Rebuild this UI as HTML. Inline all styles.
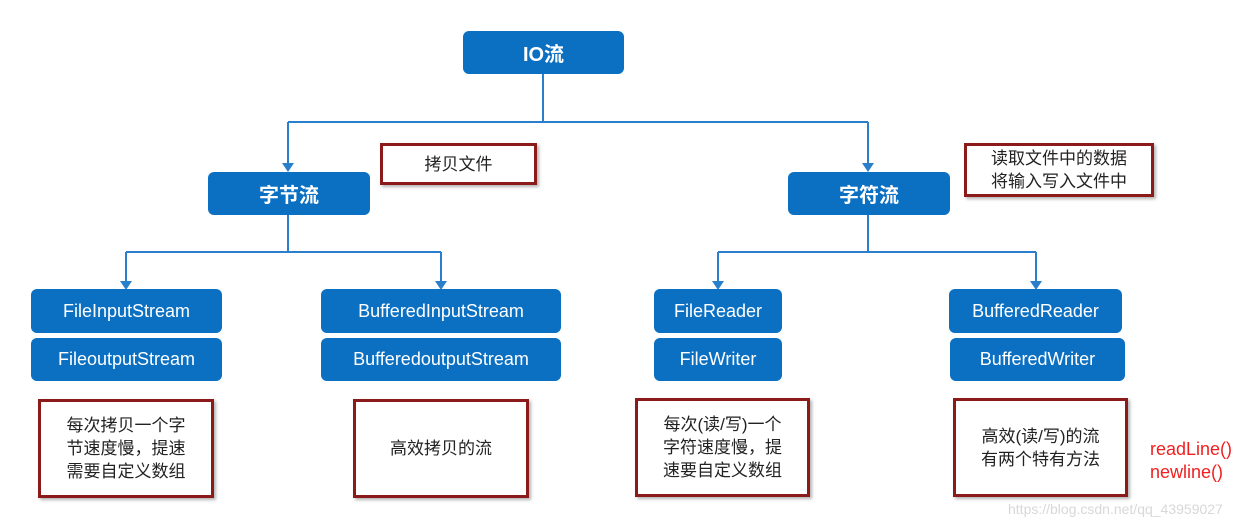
<!DOCTYPE html>
<html><head><meta charset="utf-8"><style>
body{margin:0;width:1259px;height:528px;background:#fff;position:relative;overflow:hidden;font-family:"Liberation Sans","Noto Sans CJK SC",sans-serif}
.b{position:absolute;background:#0b6fc2;color:#fff;border-radius:6px;display:flex;align-items:center;justify-content:center;font-size:18px;box-sizing:border-box}
.h{font-weight:bold;font-size:20px}
.r{position:absolute;border:3px solid #8b1a1a;box-sizing:border-box;display:flex;align-items:center;justify-content:center;text-align:center;font-size:17px;line-height:23px;color:#222;box-shadow:2px 2px 3px rgba(0,0,0,.3);background:#fff}
svg{position:absolute;left:0;top:0}
</style></head><body>
<svg width="1259" height="528">
<g stroke="#2a7fcc" stroke-width="2" fill="none">
<path d="M543 74V122M288 122H868M288 122V165M868 122V165"/>
<path d="M288 215V252M126 252H441M126 252V283M441 252V283"/>
<path d="M868 215V252M718 252H1036M718 252V283M1036 252V283"/>
</g>
<g fill="#2a7fcc">
<path d="M282 163h12l-6 9z"/><path d="M862 163h12l-6 9z"/>
<path d="M120 281h12l-6 9z"/><path d="M435 281h12l-6 9z"/>
<path d="M712 281h12l-6 9z"/><path d="M1030 281h12l-6 9z"/>
</g>
</svg>
<div class="b h" style="left:463px;top:31px;width:161px;height:43px">IO流</div>
<div class="b h" style="left:208px;top:172px;width:162px;height:43px">字节流</div>
<div class="b h" style="left:788px;top:172px;width:162px;height:43px">字符流</div>
<div class="r" style="left:380px;top:143px;width:157px;height:42px">拷贝文件</div>
<div class="r" style="left:964px;top:143px;width:190px;height:54px">读取文件中的数据<br>将输入写入文件中</div>
<div class="b" style="left:31px;top:289px;width:191px;height:44px">FileInputStream</div>
<div class="b" style="left:31px;top:338px;width:191px;height:43px">FileoutputStream</div>
<div class="b" style="left:321px;top:289px;width:240px;height:44px">BufferedInputStream</div>
<div class="b" style="left:321px;top:338px;width:240px;height:43px">BufferedoutputStream</div>
<div class="b" style="left:654px;top:289px;width:128px;height:44px">FileReader</div>
<div class="b" style="left:654px;top:338px;width:128px;height:43px">FileWriter</div>
<div class="b" style="left:949px;top:289px;width:173px;height:44px">BufferedReader</div>
<div class="b" style="left:950px;top:338px;width:175px;height:43px">BufferedWriter</div>
<div class="r" style="left:38px;top:399px;width:176px;height:99px">每次拷贝一个字<br>节速度慢，提速<br>需要自定义数组</div>
<div class="r" style="left:353px;top:399px;width:176px;height:99px">高效拷贝的流</div>
<div class="r" style="left:635px;top:398px;width:175px;height:99px">每次(读/写)一个<br>字符速度慢，提<br>速要自定义数组</div>
<div class="r" style="left:953px;top:398px;width:175px;height:99px">高效(读/写)的流<br>有两个特有方法</div>
<div style="position:absolute;left:1150px;top:438px;color:#f02020;font-size:18px;line-height:23px">readLine()<br>newline()</div>
<div style="position:absolute;left:1008px;top:501px;color:#d8d8d8;font-size:14px">https://blog.csdn.net/qq_43959027</div>
</body></html>
